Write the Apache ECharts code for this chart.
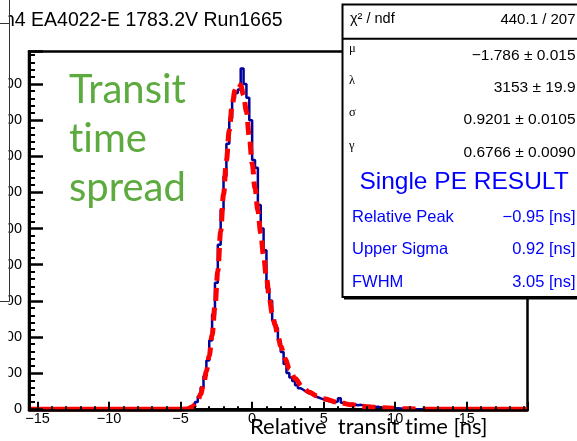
<!DOCTYPE html>
<html>
<head>
<meta charset="utf-8">
<script src="https://cdn.jsdelivr.net/npm/echarts@6/dist/echarts.min.js"></script>
<style>
  html, body { margin: 0; padding: 0; background: #fff; }
  #chart { width: 577px; height: 441px; }
</style>
</head>
<body>
<div id="chart"></div>
<script>
// Transit-time histogram (0.2 ns bins) and its fitted curve
const xRange = [-15.6, 19.25];
const yRange = [0, 990];

const binStart = -4.8;
const binWidth = 0.2;
const counts = [
  0, 1, 4, 9, 20, 36, 60, 92, 135, 190,
  262, 350, 455, 552, 645, 735, 805, 860, 875, 885,
  943, 900, 862, 800, 690, 668, 565, 500, 440, 335,
  300, 245, 225, 190, 158, 125, 100, 88, 78, 66,
  58, 53, 48, 44, 41, 36, 33, 30, 27, 24,
  22, 20, 19, 22, 30, 18, 16, 14, 15, 13,
  11, 12, 10, 8, 9, 7, 6, 7, 5, 4,
  5, 3, 3, 2, 3, 2, 1, 2, 1, 1,
  0
];

const fitX = [
  -4.8, -4.5, -4.2, -4.0, -3.8, -3.6, -3.4, -3.2, -3.0, -2.8,
  -2.6, -2.4, -2.2, -2.0, -1.8, -1.6, -1.4, -1.2, -1.0, -0.8,
  -0.6, -0.4, -0.2, 0.0, 0.2, 0.4, 0.6, 0.8, 1.0, 1.2,
  1.4, 1.6, 1.8, 2.0, 2.3, 2.6, 3.0, 3.5, 4.0, 4.5,
  5.0, 6.0, 7.0, 8.0, 9.0, 10.0, 11.0, 12.0
];
const fitY = [
  0, 1.5, 6, 12, 23, 42, 68, 104, 148, 205,
  285, 382, 492, 595, 688, 772, 840, 883, 901, 896,
  870, 824, 755, 680, 612, 550, 487, 424, 364, 308,
  266, 234, 203, 175, 140, 112, 85, 62, 47, 37,
  29, 19, 12, 7, 4, 2, 1, 0
];

const titleText = 'h4 EA4022-E 1783.2V Run1665';
const statRows = [
  { name: 'μ', value: '−1.786 ± 0.015', y: 56 },
  { name: 'λ', value: '3153 ± 19.9', y: 87.5 },
  { name: 'σ', value: '0.9201 ± 0.0105', y: 120 },
  { name: 'γ', value: '0.6766 ± 0.0090', y: 153 }
];
const resultRows = [
  { name: 'Relative Peak', value: '−0.95 [ns]', y: 217 },
  { name: 'Upper Sigma', value: '0.92 [ns]', y: 249.5 },
  { name: 'FWHM', value: '3.05 [ns]', y: 282 }
];
// a zero-width non-joiner keeps "t" and "i" as separate glyphs in Lato
const ZWNJ = '\u200C';
const noTi = s => s.replace(/ti/g, 't' + ZWNJ + 'i');

// step outline of the histogram, flat at zero outside the filled bins
const histPoints = [[xRange[0], 0]];
counts.forEach((c, i) => histPoints.push([binStart + i * binWidth, c]));
histPoints.push([binStart + counts.length * binWidth, 0]);
histPoints.push([xRange[1], 0]);

const fitPoints = fitX.map((x, i) => [x, fitY[i]]);
const fitLeftFlat = [[xRange[0], 0], [fitX[0], 0]];
const fitRightFlat = [[fitX[fitX.length - 1], 0], [xRange[1], 0]];

const sans = 'Liberation Sans, Arial, sans-serif';
const minus = v => (v < 0 ? '−' + Math.abs(v) : String(v));

function txt(x, y, text, size, opts) {
  opts = opts || {};
  return {
    type: 'text', x: x, y: y, z: opts.z || 30,
    style: {
      text: text,
      fontSize: size,
      fontFamily: opts.family || sans,
      fill: opts.color || '#000',
      align: opts.align || 'left', textAlign: opts.align || 'left',
      verticalAlign: 'middle', textVerticalAlign: 'middle'
    }
  };
}

const graphics = [];
// stat box
graphics.push({ type: 'rect', z: 20, shape: { x: 342.5, y: 4.5, width: 260, height: 292.5 },
  style: { fill: '#fff', stroke: '#000', lineWidth: 2 } });
graphics.push({ type: 'rect', z: 21, shape: { x: 344, y: 296.5, width: 240, height: 3 },
  style: { fill: '#000' } });
graphics.push({ type: 'line', z: 21, shape: { x1: 342.5, y1: 38.8, x2: 590, y2: 38.8 },
  style: { stroke: '#000', lineWidth: 2 } });
graphics.push(txt(350, 19, 'χ² / ndf', 14.5));
graphics.push(txt(575.5, 19.5, '440.1 / 207', 15, { align: 'right' }));
statRows.forEach(r => {
  graphics.push(txt(349, r.y - 7, r.name, 12.5, { family: 'Liberation Serif, serif' }));
  graphics.push(txt(575.5, r.y, r.value, 15.5, { align: 'right' }));
});
graphics.push(txt(464, 182, 'Single PE RESULT', 24.5, { align: 'center', color: '#0000ff' }));
resultRows.forEach(r => {
  graphics.push(txt(352, r.y, r.name, 16.5, { color: '#0000ff' }));
  graphics.push(txt(575.5, r.y, r.value, 16.5, { color: '#0000ff', align: 'right' }));
});

// histogram title
graphics.push(txt(4, 20.5, titleText, 19.5, { z: 5 }));

// annotation text
const green = '#5dab3e';
const lato = 'Lato, sans-serif';
graphics.push(txt(69, 90.5, noTi('Transit'), 40, { family: lato, color: green }));
graphics.push(txt(69, 139.5, noTi('time'), 40, { family: lato, color: green }));
graphics.push(txt(69, 188.5, noTi('spread'), 40, { family: lato, color: green }));

// x-axis title
graphics.push(txt(250, 426.5, noTi('Relative  transit time [ns]'), 22, { family: lato }));

// neighbouring panel edge on the left
graphics.push({ type: 'rect', z: 40, shape: { x: -2, y: -2, width: 10.5, height: 450 },
  style: { fill: '#fff' } });
graphics.push({ type: 'line', z: 41, shape: { x1: 9.5, y1: 0, x2: 9.5, y2: 301.5 },
  style: { stroke: '#333', lineWidth: 1 } });
graphics.push({ type: 'line', z: 41, shape: { x1: 0, y1: 23.5, x2: 9.5, y2: 23.5 },
  style: { stroke: '#333', lineWidth: 1 } });
graphics.push({ type: 'line', z: 41, shape: { x1: 0, y1: 301.5, x2: 9.5, y2: 301.5 },
  style: { stroke: '#333', lineWidth: 1 } });

const chart = echarts.init(document.getElementById('chart'), null, { renderer: 'canvas' });
chart.setOption({
  animation: false,
  backgroundColor: '#fff',
  grid: {
    left: 29, right: 49.5, top: 51.5, bottom: 31.8,
    show: true, borderColor: '#000', borderWidth: 2.5,
    containLabel: false, outerBoundsMode: 'none'
  },
  xAxis: {
    type: 'value', min: xRange[0], max: xRange[1],
    splitNumber: 7, minInterval: 5, maxInterval: 5,
    offset: 1.5, z: 4,
    axisLine: { show: true, onZero: false, lineStyle: { color: '#000', width: 2.5 } },
    axisTick: { show: true, inside: true, length: 9, lineStyle: { color: '#000', width: 2 } },
    minorTick: { show: true, splitNumber: 5, length: 4.5, lineStyle: { color: '#000', width: 2 } },
    splitLine: { show: false },
    axisLabel: {
      margin: 1, color: '#000', fontSize: 14.5, fontFamily: sans,
      showMinLabel: false, showMaxLabel: false, formatter: minus
    }
  },
  yAxis: {
    type: 'value', min: yRange[0], max: yRange[1], interval: 100, z: 4,
    axisLine: { show: true, onZero: false, lineStyle: { color: '#000', width: 3 } },
    axisTick: { show: true, inside: true, length: 14, lineStyle: { color: '#000', width: 2.5 } },
    minorTick: { show: true, splitNumber: 5, length: 6, lineStyle: { color: '#000', width: 2 } },
    splitLine: { show: false },
    axisLabel: {
      margin: 7, color: '#000', fontSize: 14.5, fontFamily: sans,
      showMaxLabel: false
    }
  },
  series: [
    {
      name: 'histogram', type: 'line', step: 'end', data: histPoints,
      showSymbol: false, symbol: 'none', z: 2,
      lineStyle: { color: '#00009a', width: 2.5 }
    },
    {
      name: 'fit', type: 'line', data: fitPoints, smooth: 0.35, smoothMonotone: 'x',
      showSymbol: false, symbol: 'none', z: 3,
      lineStyle: { color: '#ff0000', width: 5, type: [13, 7], cap: 'butt' }
    },
    {
      name: 'fit-left', type: 'line', data: fitLeftFlat, showSymbol: false, symbol: 'none', z: 3,
      lineStyle: { color: '#ff0000', width: 5 }
    },
    {
      name: 'fit-right', type: 'line', data: fitRightFlat, showSymbol: false, symbol: 'none', z: 3,
      lineStyle: { color: '#ff0000', width: 5 }
    }
  ],
  graphic: { elements: graphics }
});
</script>
</body>
</html>
